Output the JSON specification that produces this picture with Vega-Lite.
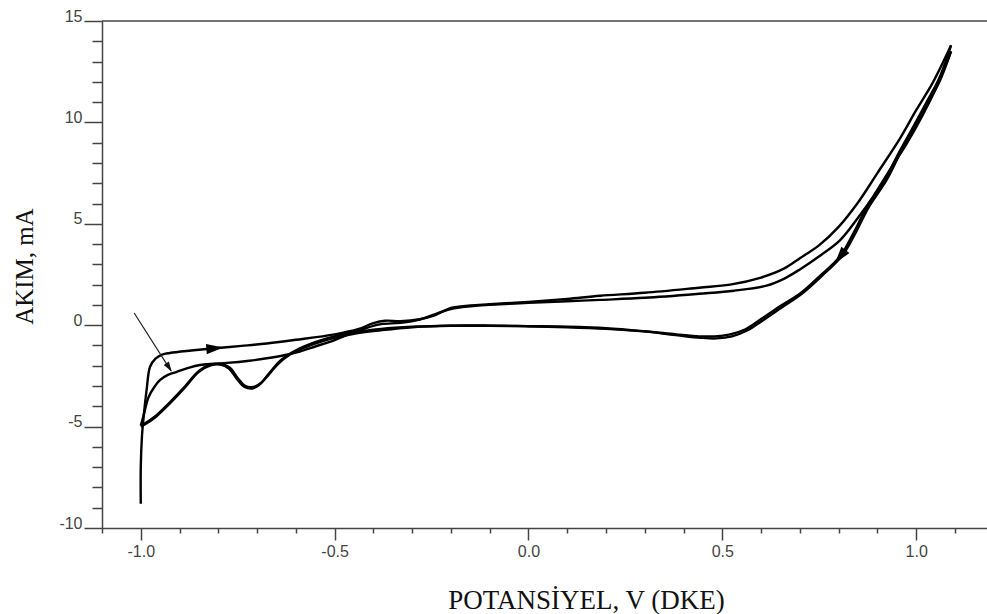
{
  "$schema": "https://vega.github.io/schema/vega-lite/v6.json",
  "width": 885,
  "height": 507,
  "autosize": {"type": "none"},
  "padding": {"left": 102, "top": 21, "right": 0, "bottom": 86},
  "background": "white",
  "config": {
    "view": {"stroke": null},
    "axis": {
      "grid": false,
      "domainColor": "#444",
      "domainWidth": 1.5,
      "tickColor": "#444",
      "tickWidth": 1.5,
      "labelFont": "Liberation Sans",
      "labelFontSize": 16,
      "labelColor": "#444",
      "labelOverlap": false,
      "labelFlush": false,
      "titleFont": "Liberation Serif",
      "titleFontWeight": "normal",
      "titleColor": "#111"
    }
  },
  "datasets": {
    "cv": [
      {"s":"a1","i":0,"x":-1.0,"y":-8.8},{"s":"a1","i":1,"x":-1.0,"y":-7.0},{"s":"a1","i":2,"x":-0.997,"y":-5.5},{"s":"a1","i":3,"x":-0.993,"y":-4.6},{"s":"a1","i":4,"x":-0.985,"y":-3.2},{"s":"a1","i":5,"x":-0.976,"y":-2.05},{"s":"a1","i":6,"x":-0.962,"y":-1.65},{"s":"a1","i":7,"x":-0.945,"y":-1.45},{"s":"a1","i":8,"x":-0.925,"y":-1.37},{"s":"a1","i":9,"x":-0.87,"y":-1.25},{"s":"a1","i":10,"x":-0.81,"y":-1.14},{"s":"a1","i":11,"x":-0.74,"y":-1.02},{"s":"a1","i":12,"x":-0.675,"y":-0.9},{"s":"a1","i":13,"x":-0.6,"y":-0.72},{"s":"a1","i":14,"x":-0.5,"y":-0.45},{"s":"a1","i":15,"x":-0.44,"y":-0.2},{"s":"a1","i":16,"x":-0.4,"y":0.1},{"s":"a1","i":17,"x":-0.37,"y":0.22},{"s":"a1","i":18,"x":-0.33,"y":0.2},{"s":"a1","i":19,"x":-0.28,"y":0.3},{"s":"a1","i":20,"x":-0.24,"y":0.5},{"s":"a1","i":21,"x":-0.2,"y":0.85},{"s":"a1","i":22,"x":-0.15,"y":0.97},{"s":"a1","i":23,"x":-0.1,"y":1.03},{"s":"a1","i":24,"x":0.0,"y":1.15},{"s":"a1","i":25,"x":0.1,"y":1.3},{"s":"a1","i":26,"x":0.185,"y":1.45},{"s":"a1","i":27,"x":0.3,"y":1.6},{"s":"a1","i":28,"x":0.44,"y":1.85},{"s":"a1","i":29,"x":0.52,"y":2.0},{"s":"a1","i":30,"x":0.6,"y":2.35},{"s":"a1","i":31,"x":0.66,"y":2.8},{"s":"a1","i":32,"x":0.7,"y":3.3},{"s":"a1","i":33,"x":0.75,"y":3.95},{"s":"a1","i":34,"x":0.8,"y":4.85},{"s":"a1","i":35,"x":0.85,"y":6.05},{"s":"a1","i":36,"x":0.9,"y":7.5},{"s":"a1","i":37,"x":0.958,"y":9.2},{"s":"a1","i":38,"x":1.0,"y":10.6},{"s":"a1","i":39,"x":1.044,"y":12.0},{"s":"a1","i":40,"x":1.09,"y":13.8},

      {"s":"c1","i":0,"x":1.09,"y":13.8},{"s":"c1","i":1,"x":1.06,"y":12.2},{"s":"c1","i":2,"x":1.027,"y":11.0},{"s":"c1","i":3,"x":0.99,"y":9.7},{"s":"c1","i":4,"x":0.958,"y":8.6},{"s":"c1","i":5,"x":0.92,"y":7.2},{"s":"c1","i":6,"x":0.872,"y":5.8},{"s":"c1","i":7,"x":0.84,"y":4.6},{"s":"c1","i":8,"x":0.804,"y":3.4},{"s":"c1","i":9,"x":0.75,"y":2.4},{"s":"c1","i":10,"x":0.7,"y":1.55},{"s":"c1","i":11,"x":0.65,"y":0.95},{"s":"c1","i":12,"x":0.6,"y":0.3},{"s":"c1","i":13,"x":0.56,"y":-0.2},{"s":"c1","i":14,"x":0.52,"y":-0.45},{"s":"c1","i":15,"x":0.48,"y":-0.55},{"s":"c1","i":16,"x":0.44,"y":-0.55},{"s":"c1","i":17,"x":0.38,"y":-0.45},{"s":"c1","i":18,"x":0.3,"y":-0.3},{"s":"c1","i":19,"x":0.2,"y":-0.15},{"s":"c1","i":20,"x":0.1,"y":-0.08},{"s":"c1","i":21,"x":0.0,"y":-0.05},{"s":"c1","i":22,"x":-0.1,"y":-0.03},{"s":"c1","i":23,"x":-0.2,"y":-0.03},{"s":"c1","i":24,"x":-0.3,"y":-0.08},{"s":"c1","i":25,"x":-0.38,"y":-0.18},{"s":"c1","i":26,"x":-0.45,"y":-0.35},{"s":"c1","i":27,"x":-0.52,"y":-0.65},{"s":"c1","i":28,"x":-0.58,"y":-1.05},{"s":"c1","i":29,"x":-0.61,"y":-1.35},{"s":"c1","i":30,"x":-0.64,"y":-1.75},{"s":"c1","i":31,"x":-0.67,"y":-2.4},{"s":"c1","i":32,"x":-0.69,"y":-2.85},{"s":"c1","i":33,"x":-0.71,"y":-3.05},{"s":"c1","i":34,"x":-0.73,"y":-3.0},{"s":"c1","i":35,"x":-0.75,"y":-2.6},{"s":"c1","i":36,"x":-0.77,"y":-2.1},{"s":"c1","i":37,"x":-0.79,"y":-1.92},{"s":"c1","i":38,"x":-0.82,"y":-1.95},{"s":"c1","i":39,"x":-0.85,"y":-2.25},{"s":"c1","i":40,"x":-0.89,"y":-3.1},{"s":"c1","i":41,"x":-0.93,"y":-3.9},{"s":"c1","i":42,"x":-0.96,"y":-4.45},{"s":"c1","i":43,"x":-0.99,"y":-4.85},{"s":"c1","i":44,"x":-1.0,"y":-4.95},

      {"s":"a2","i":0,"x":-1.0,"y":-4.95},{"s":"a2","i":1,"x":-0.993,"y":-4.47},{"s":"a2","i":2,"x":-0.98,"y":-3.55},{"s":"a2","i":3,"x":-0.965,"y":-3.05},{"s":"a2","i":4,"x":-0.95,"y":-2.7},{"s":"a2","i":5,"x":-0.93,"y":-2.45},{"s":"a2","i":6,"x":-0.907,"y":-2.3},{"s":"a2","i":7,"x":-0.877,"y":-2.1},{"s":"a2","i":8,"x":-0.847,"y":-1.96},{"s":"a2","i":9,"x":-0.81,"y":-1.9},{"s":"a2","i":10,"x":-0.778,"y":-1.86},{"s":"a2","i":11,"x":-0.72,"y":-1.75},{"s":"a2","i":12,"x":-0.675,"y":-1.63},{"s":"a2","i":13,"x":-0.63,"y":-1.48},{"s":"a2","i":14,"x":-0.59,"y":-1.3},{"s":"a2","i":15,"x":-0.55,"y":-1.05},{"s":"a2","i":16,"x":-0.5,"y":-0.73},{"s":"a2","i":17,"x":-0.46,"y":-0.42},{"s":"a2","i":18,"x":-0.42,"y":-0.15},{"s":"a2","i":19,"x":-0.38,"y":0.05},{"s":"a2","i":20,"x":-0.33,"y":0.12},{"s":"a2","i":21,"x":-0.28,"y":0.28},{"s":"a2","i":22,"x":-0.24,"y":0.55},{"s":"a2","i":23,"x":-0.2,"y":0.8},{"s":"a2","i":24,"x":-0.15,"y":0.93},{"s":"a2","i":25,"x":-0.1,"y":1.0},{"s":"a2","i":26,"x":0.0,"y":1.1},{"s":"a2","i":27,"x":0.1,"y":1.18},{"s":"a2","i":28,"x":0.185,"y":1.25},{"s":"a2","i":29,"x":0.3,"y":1.35},{"s":"a2","i":30,"x":0.44,"y":1.55},{"s":"a2","i":31,"x":0.53,"y":1.7},{"s":"a2","i":32,"x":0.614,"y":1.95},{"s":"a2","i":33,"x":0.66,"y":2.3},{"s":"a2","i":34,"x":0.7,"y":2.75},{"s":"a2","i":35,"x":0.75,"y":3.4},{"s":"a2","i":36,"x":0.804,"y":4.2},{"s":"a2","i":37,"x":0.85,"y":5.3},{"s":"a2","i":38,"x":0.889,"y":6.34},{"s":"a2","i":39,"x":0.93,"y":7.6},{"s":"a2","i":40,"x":0.976,"y":8.97},{"s":"a2","i":41,"x":1.015,"y":10.3},{"s":"a2","i":42,"x":1.053,"y":11.76},{"s":"a2","i":43,"x":1.09,"y":13.5},

      {"s":"c2","i":0,"x":1.09,"y":13.5},{"s":"c2","i":1,"x":1.06,"y":12.0},{"s":"c2","i":2,"x":1.03,"y":10.95},{"s":"c2","i":3,"x":0.995,"y":9.7},{"s":"c2","i":4,"x":0.962,"y":8.6},{"s":"c2","i":5,"x":0.925,"y":7.2},{"s":"c2","i":6,"x":0.877,"y":5.8},{"s":"c2","i":7,"x":0.845,"y":4.6},{"s":"c2","i":8,"x":0.81,"y":3.45},{"s":"c2","i":9,"x":0.755,"y":2.4},{"s":"c2","i":10,"x":0.705,"y":1.55},{"s":"c2","i":11,"x":0.655,"y":0.9},{"s":"c2","i":12,"x":0.605,"y":0.25},{"s":"c2","i":13,"x":0.565,"y":-0.25},{"s":"c2","i":14,"x":0.525,"y":-0.55},{"s":"c2","i":15,"x":0.485,"y":-0.65},{"s":"c2","i":16,"x":0.445,"y":-0.62},{"s":"c2","i":17,"x":0.385,"y":-0.5},{"s":"c2","i":18,"x":0.31,"y":-0.33},{"s":"c2","i":19,"x":0.2,"y":-0.18},{"s":"c2","i":20,"x":0.1,"y":-0.1},{"s":"c2","i":21,"x":0.0,"y":-0.05},{"s":"c2","i":22,"x":-0.1,"y":-0.02},{"s":"c2","i":23,"x":-0.2,"y":-0.02},{"s":"c2","i":24,"x":-0.3,"y":-0.1},{"s":"c2","i":25,"x":-0.38,"y":-0.25},{"s":"c2","i":26,"x":-0.45,"y":-0.42},{"s":"c2","i":27,"x":-0.52,"y":-0.72},{"s":"c2","i":28,"x":-0.58,"y":-1.12},{"s":"c2","i":29,"x":-0.615,"y":-1.45},{"s":"c2","i":30,"x":-0.645,"y":-1.9},{"s":"c2","i":31,"x":-0.675,"y":-2.55},{"s":"c2","i":32,"x":-0.695,"y":-2.95},{"s":"c2","i":33,"x":-0.712,"y":-3.12},{"s":"c2","i":34,"x":-0.732,"y":-3.05},{"s":"c2","i":35,"x":-0.752,"y":-2.65},{"s":"c2","i":36,"x":-0.772,"y":-2.15},{"s":"c2","i":37,"x":-0.792,"y":-1.95},{"s":"c2","i":38,"x":-0.82,"y":-1.98},{"s":"c2","i":39,"x":-0.85,"y":-2.3},{"s":"c2","i":40,"x":-0.89,"y":-3.15},{"s":"c2","i":41,"x":-0.93,"y":-3.95},{"s":"c2","i":42,"x":-0.96,"y":-4.5},{"s":"c2","i":43,"x":-0.99,"y":-4.9},{"s":"c2","i":44,"x":-1.0,"y":-5.0}
    ],
    "pointer": [{"x": -1.017, "y": 0.6, "x2": -0.922, "y2": -2.25}],
    "tip": [{"x": -0.92, "y": -2.29}],
    "headA": [{"x": -0.809, "y": -1.14}],
    "headC": [{"x": 0.804, "y": 3.38}],
    "top": [{"x": -1.1, "x2": 1.1827, "y": 15}]
  },
  "encoding": {
    "x": {
      "field": "x", "type": "quantitative",
      "scale": {"domain": [-1.1, 1.1827], "nice": false, "zero": false},
      "axis": {
        "values": [-1.1,-1.0,-0.9,-0.8,-0.7,-0.6,-0.5,-0.4,-0.3,-0.2,-0.1,0,0.1,0.2,0.3,0.4,0.5,0.6,0.7,0.8,0.9,1.0,1.1],
        "labelExpr": "abs(datum.value*2 - round(datum.value*2)) < 0.001 ? (datum.value < -0.001 ? '-' : '') + format(abs(datum.value), '.1f') : ''",
        "tickSize": {"condition": {"test": "abs(datum.value*2 - round(datum.value*2)) < 0.001", "value": 12}, "value": 5},
        "labelPadding": 3,
        "title": "POTANSİYEL, V (DKE)",
        "titleFontSize": 27,
        "titleX": 484,
        "titleY": 80,
        "titleAlign": "center",
        "titleBaseline": "alphabetic"
      }
    },
    "y": {
      "field": "y", "type": "quantitative",
      "scale": {"domain": [-10, 15], "nice": false, "zero": false},
      "axis": {
        "values": [-10,-9,-8,-7,-6,-5,-4,-3,-2,-1,0,1,2,3,4,5,6,7,8,9,10,11,12,13,14,15],
        "labelExpr": "datum.value % 5 == 0 ? (datum.value < 0 ? '-' : '') + abs(datum.value) : ''",
        "tickSize": {"condition": {"test": "datum.value % 5 == 0", "value": 18}, "value": 10},
        "labelPadding": 2,
        "labelBaseline": "alphabetic",
        "title": "AKIM, mA",
        "titleFontSize": 25,
        "titleAngle": 270,
        "titleX": -70,
        "titleY": 245,
        "titleAlign": "center",
        "titleBaseline": "alphabetic"
      }
    }
  },
  "layer": [
    {
      "data": {"name": "cv"},
      "mark": {"type": "line", "interpolate": "catmull-rom", "color": "black", "strokeWidth": 2.4, "strokeJoin": "round"},
      "encoding": {
        "detail": {"field": "s"},
        "order": {"field": "i", "type": "quantitative"}
      }
    },
    {
      "data": {"name": "top"},
      "mark": {"type": "rule", "color": "#444", "strokeWidth": 1.5},
      "encoding": {"x2": {"field": "x2"}}
    },
    {
      "data": {"name": "pointer"},
      "mark": {"type": "rule", "color": "#222", "strokeWidth": 1.2},
      "encoding": {
        "x2": {"field": "x2"},
        "y2": {"field": "y2"}
      }
    },
    {
      "data": {"name": "tip"},
      "mark": {"type": "point", "shape": "M0,0L0.3,1L-0.3,1Z", "size": 400, "angle": 147, "filled": true, "color": "#111", "opacity": 1},
      "encoding": {}
    },
    {
      "data": {"name": "headA"},
      "mark": {"type": "point", "shape": "M0,-1L0.6,1L-0.6,1Z", "size": 289, "angle": 85, "filled": true, "color": "black", "opacity": 1},
      "encoding": {}
    },
    {
      "data": {"name": "headC"},
      "mark": {"type": "point", "shape": "M0,-1L0.6,1L-0.6,1Z", "size": 289, "angle": 218, "filled": true, "color": "black", "opacity": 1},
      "encoding": {}
    }
  ]
}
